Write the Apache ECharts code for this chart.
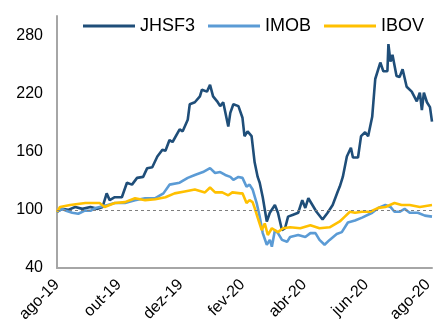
<!DOCTYPE html>
<html>
<head>
<meta charset="utf-8">
<script src="https://cdn.jsdelivr.net/npm/echarts@6/dist/echarts.min.js"></script>
<style>
html,body{margin:0;padding:0;background:#fff;}
#c{width:435px;height:321px;}
</style>
</head>
<body>
<div id="c"></div>
<script>
// x values: days since 2019-08-01
var tickLabels = ['ago-19','out-19','dez-19','fev-20','abr-20','jun-20','ago-20'];
var seriesNames = ['JHSF3','IMOB','IBOV'];

var jhsfDays = [0,5,11,18,25,33,40,45,49,52,57,64,69,74,79,85,89,94,99,104,107,111,114,121,124,129,131,136,141,143,148,151,154,158,161,164,169,171,174,179,183,185,188,192,195,198,200,203,207,210,215,218,222,225,228,233,238,242,245,248,252,256,262,267,272,277,279,282,286,290,292,297,300,304,307,311,314,319,322,326,327,329,331,335,338,341,345,350,355,358,360,362,365,368,370];
var jhsfVals = [98,101,100,103,101,103,101,103,117,110,113,113,128,126,133,134,143,144,155,162,161,172,170,183,181,193,209,211,217,224,222,229,217,212,207,211,186,200,209,207,195,176,181,176,149,134,128,113,88,97,105,97,79,81,93,95,97,110,102,112,105,98,90,97,105,119,124,134,155,164,154,154,176,180,176,196,235,252,243,243,271,253,260,238,237,245,227,222,212,221,203,221,211,206,191];

var imobDays = [0,5,9,15,21,27,33,38,42,50,57,67,77,87,97,105,111,121,129,136,144,151,156,161,166,171,174,179,183,187,190,193,197,200,203,207,210,212,215,218,222,227,230,238,245,250,255,259,264,269,276,281,287,294,301,311,317,324,329,333,338,343,348,356,363,370];
var imobVals = [98,101,99,97,96,99,99,102,103,105,107,107,110,112,112,117,126,128,133,136,139,143,138,139,136,134,131,134,133,124,126,121,107,93,76,64,69,62,79,76,69,67,72,74,72,76,76,69,64,69,75,77,87,89,92,97,102,105,103,98,98,101,97,97,94,93];

var ibovDays = [0,3,13,28,42,47,57,67,77,87,97,107,116,126,136,146,151,156,163,169,173,181,183,187,190,193,195,198,202,205,208,212,218,223,230,240,250,259,269,279,284,289,294,301,309,317,324,333,340,348,358,370];
var ibovVals = [98,103,105,107,107,103,107,108,112,110,111,113,117,119,121,118,123,118,118,115,118,117,117,107,110,108,102,92,79,86,74,81,77,81,82,81,84,81,82,88,93,98,97,98,98,102,103,107,105,105,103,105];

var tickDays = [0,61,122,183,244,305,366];

function pairs(d, v){ return d.map(function(x,i){ return [x, v[i]]; }); }

var colors = ['#1f4e79','#5b9bd5','#ffc000'];
var chart = echarts.init(document.getElementById('c'), null, {renderer:'canvas'});
var font = 'Liberation Sans, Arial, sans-serif';
chart.setOption({
  animation:false,
  color: colors,
  grid:{left:57, right:3, top:16, bottom:53, containLabel:false, outerBoundsMode:'none'},
  legend:{
    data: seriesNames, left:78, top:12, icon:'rect', itemWidth:52, itemHeight:3, itemGap:13,
    textStyle:{fontFamily:font, fontSize:18, color:'#000'}
  },
  xAxis:{
    type:'value', min:0, max:370, interval:61,
    axisLine:{show:true, lineStyle:{color:'#a6a6a6', width:2}},
    axisTick:{show:false},
    splitLine:{show:false},
    axisLabel:{
      rotate:45, margin:14, showMaxLabel:false,
      fontFamily:font, fontSize:16, color:'#000',
      formatter:function(v){ var i = tickDays.indexOf(v); return i>=0 ? tickLabels[i] : ''; }
    }
  },
  yAxis:{
    type:'value', min:40, max:300, interval:60,
    axisLine:{show:true, lineStyle:{color:'#a6a6a6', width:2}},
    axisTick:{show:false},
    splitLine:{show:false},
    axisLabel:{showMaxLabel:false, margin:14, fontFamily:font, fontSize:16, color:'#000'}
  },
  series:[
    {name:seriesNames[0], type:'line', data:pairs(jhsfDays,jhsfVals), showSymbol:false, symbol:'none',
     lineStyle:{width:2.6, color:colors[0]},
     markLine:{silent:true, symbol:'none', label:{show:false},
       lineStyle:{type:[3,3], color:'#7f7f7f', width:1}, data:[{yAxis:100}]}},
    {name:seriesNames[1], type:'line', data:pairs(imobDays,imobVals), showSymbol:false, symbol:'none',
     lineStyle:{width:2.6, color:colors[1]}},
    {name:seriesNames[2], type:'line', data:pairs(ibovDays,ibovVals), showSymbol:false, symbol:'none',
     lineStyle:{width:2.6, color:colors[2]}}
  ]
});
</script>
</body>
</html>
